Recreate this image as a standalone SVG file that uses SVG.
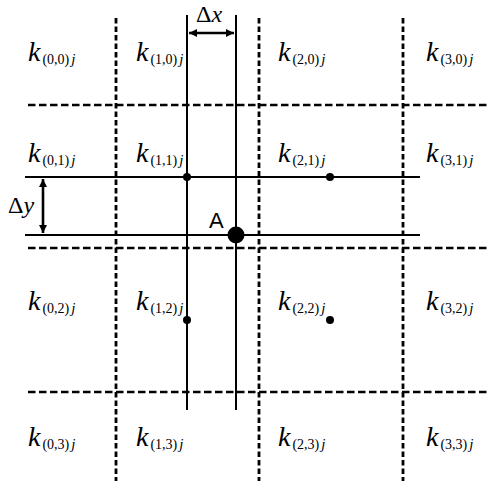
<svg xmlns="http://www.w3.org/2000/svg" width="489" height="481" viewBox="0 0 489 481">
<style>
.dh{stroke:#000;stroke-width:2.6;stroke-dasharray:7.5 3.5;fill:none}
.dv{stroke:#000;stroke-width:2.8;stroke-dasharray:5.5 3;fill:none}
.sl{stroke:#000;stroke-width:2;fill:none}
.ar{stroke:#000;stroke-width:2.6;fill:none}
text{font-family:'Liberation Serif','DejaVu Serif',serif;fill:#000}
.k{font-style:italic;font-size:28px}
.s{font-size:14px}
.j{font-style:italic;font-size:15px}
.d{font-size:24px}
.i{font-style:italic}
text.a{font-family:'Liberation Sans','DejaVu Sans',sans-serif;font-size:22px}
</style>
<defs>
<marker id="ah" viewBox="0 0 10 10" refX="10" refY="5" markerWidth="3.2" markerHeight="3.2" orient="auto-start-reverse">
<path d="M0,0 L10,5 L0,10 Z" fill="#000"/>
</marker>
</defs>
<g id="grid">
<line class="dv" x1="116" y1="18" x2="116" y2="481"/>
<line class="dv" x1="259" y1="18" x2="259" y2="481"/>
<line class="dv" x1="403" y1="18" x2="403" y2="481"/>
<line class="dh" x1="28" y1="105" x2="489" y2="105"/>
<line class="dh" x1="28" y1="248" x2="489" y2="248"/>
<line class="dh" x1="28" y1="392" x2="489" y2="392"/>
</g>
<g id="connectors">
<line class="sl" x1="187" y1="15" x2="187" y2="410"/>
<line class="sl" x1="236" y1="15" x2="236" y2="410"/>
<line class="sl" x1="25" y1="177" x2="420" y2="177"/>
<line class="sl" x1="25" y1="235" x2="420" y2="235"/>
<line class="ar" x1="189" y1="33" x2="234" y2="33" marker-start="url(#ah)" marker-end="url(#ah)"/>
<line class="ar" x1="43" y1="179" x2="43" y2="233" marker-start="url(#ah)" marker-end="url(#ah)"/>
</g>
<g id="dots">
<circle cx="187" cy="177" r="4"/>
<circle cx="330" cy="177" r="4"/>
<circle cx="187" cy="320" r="4"/>
<circle cx="330" cy="320" r="4"/>
</g>
<g id="A">
<circle cx="236" cy="235" r="8.5"/>
<text class="a" x="209" y="228">A</text>
</g>
<g id="dx"><text class="d" x="196" y="22">Δ<tspan class="i">x</tspan></text></g>
<g id="dy"><text class="d" x="8" y="213">Δ<tspan class="i">y</tspan></text></g>
<g id="labels">
<g id="k00"><text x="28" y="61"><tspan class="k">k</tspan><tspan class="s" dx="2" dy="3">(0,0)</tspan><tspan class="j" dx="2">j</tspan></text></g>
<g id="k10"><text x="136" y="61"><tspan class="k">k</tspan><tspan class="s" dx="2" dy="3">(1,0)</tspan><tspan class="j" dx="2">j</tspan></text></g>
<g id="k20"><text x="278" y="61"><tspan class="k">k</tspan><tspan class="s" dx="2" dy="3">(2,0)</tspan><tspan class="j" dx="2">j</tspan></text></g>
<g id="k30"><text x="426" y="61"><tspan class="k">k</tspan><tspan class="s" dx="2" dy="3">(3,0)</tspan><tspan class="j" dx="2">j</tspan></text></g>
<g id="k01"><text x="28" y="162"><tspan class="k">k</tspan><tspan class="s" dx="2" dy="3">(0,1)</tspan><tspan class="j" dx="2">j</tspan></text></g>
<g id="k11"><text x="136" y="162"><tspan class="k">k</tspan><tspan class="s" dx="2" dy="3">(1,1)</tspan><tspan class="j" dx="2">j</tspan></text></g>
<g id="k21"><text x="278" y="162"><tspan class="k">k</tspan><tspan class="s" dx="2" dy="3">(2,1)</tspan><tspan class="j" dx="2">j</tspan></text></g>
<g id="k31"><text x="426" y="162"><tspan class="k">k</tspan><tspan class="s" dx="2" dy="3">(3,1)</tspan><tspan class="j" dx="2">j</tspan></text></g>
<g id="k02"><text x="28" y="310"><tspan class="k">k</tspan><tspan class="s" dx="2" dy="3">(0,2)</tspan><tspan class="j" dx="2">j</tspan></text></g>
<g id="k12"><text x="136" y="310"><tspan class="k">k</tspan><tspan class="s" dx="2" dy="3">(1,2)</tspan><tspan class="j" dx="2">j</tspan></text></g>
<g id="k22"><text x="278" y="310"><tspan class="k">k</tspan><tspan class="s" dx="2" dy="3">(2,2)</tspan><tspan class="j" dx="2">j</tspan></text></g>
<g id="k32"><text x="426" y="310"><tspan class="k">k</tspan><tspan class="s" dx="2" dy="3">(3,2)</tspan><tspan class="j" dx="2">j</tspan></text></g>
<g id="k03"><text x="28" y="446"><tspan class="k">k</tspan><tspan class="s" dx="2" dy="3">(0,3)</tspan><tspan class="j" dx="2">j</tspan></text></g>
<g id="k13"><text x="136" y="446"><tspan class="k">k</tspan><tspan class="s" dx="2" dy="3">(1,3)</tspan><tspan class="j" dx="2">j</tspan></text></g>
<g id="k23"><text x="278" y="446"><tspan class="k">k</tspan><tspan class="s" dx="2" dy="3">(2,3)</tspan><tspan class="j" dx="2">j</tspan></text></g>
<g id="k33"><text x="426" y="446"><tspan class="k">k</tspan><tspan class="s" dx="2" dy="3">(3,3)</tspan><tspan class="j" dx="2">j</tspan></text></g>
</g>
</svg>
